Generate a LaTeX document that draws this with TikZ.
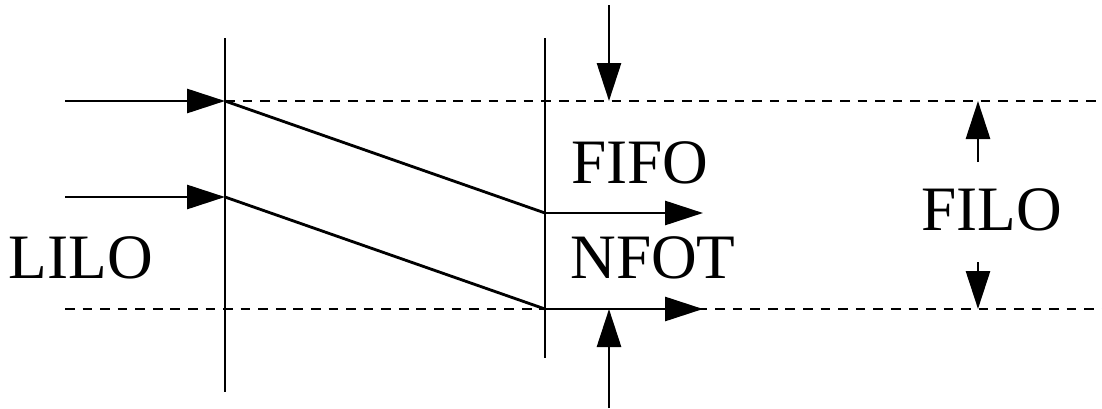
\documentclass[tikz,border=0pt]{standalone}
\usepackage{fontspec}
\setmainfont{Liberation Serif}
\usetikzlibrary{arrows.meta}

\begin{document}
\begin{tikzpicture}[
  font=\fontsize{36}{40}\selectfont,
  line/.style={line width=1.6pt},
  arr/.style={line width=1.6pt, -{Triangle[length=0.76cm, width=0.48cm]}},
  guide/.style={line width=0.6pt, dash pattern=on 5.5pt off 4.5pt},
  lbl/.style={inner sep=0pt}
]
\useasboundingbox (0,0) rectangle (22.04,8.16);

% points where the lines meet
\coordinate (a1) at (4.5,6.14);
\coordinate (a2) at (4.5,4.22);
\coordinate (b1) at (10.9,3.9);
\coordinate (b2) at (10.9,1.98);
\coordinate (in1) at (1.3,6.14);
\coordinate (in2) at (1.3,4.22);
\coordinate (out1) at (14.06,3.9);
\coordinate (out2) at (14.06,1.98);
\coordinate (top) at (4.5,7.4);
\coordinate (bot) at (4.5,0.32);
\coordinate (top2) at (10.9,7.4);
\coordinate (bot2) at (10.9,1.0);
\coordinate (gl) at (22.04,6.14);
\coordinate (gb) at (1.3,1.98);
\coordinate (gr) at (22.04,1.98);
\coordinate (d0) at (12.18,8.06);
\coordinate (d1) at (12.18,6.14);
\coordinate (u0) at (12.18,0);
\coordinate (u1) at (12.18,1.98);
\coordinate (f0) at (19.56,4.92);
\coordinate (f1) at (19.56,6.14);
\coordinate (g0) at (19.56,2.92);
\coordinate (g1) at (19.56,1.98);

% dashed guides
\draw[guide] (a1) -- (gl);
\draw[guide] (gb) -- (gr);

% vertical bars
\draw[line] (top) -- (bot);
\draw[line] (top2) -- (bot2);

% skewed paths
\draw[arr] (in1) -- (a1);
\draw[arr] (in2) -- (a2);
\draw[line] (a1) -- (b1);
\draw[line] (a2) -- (b2);
\draw[arr] (b1) -- (out1);
\draw[arr] (b2) -- (out2);

\draw[arr] (d0) -- (d1);
\draw[arr] (u0) -- (u1);
\draw[arr] (f0) -- (f1);
\draw[arr] (g0) -- (g1);

% labels
\node[lbl] (fifo) at (12.8,4.9) {FIFO};
\node[lbl] (nfot) at (13.06,3.0) {NFOT};
\node[lbl] (lilo) at (1.62,3.0) {LILO};
\node[lbl] (filo) at (19.84,3.96) {FILO};
\end{tikzpicture}
\end{document}
